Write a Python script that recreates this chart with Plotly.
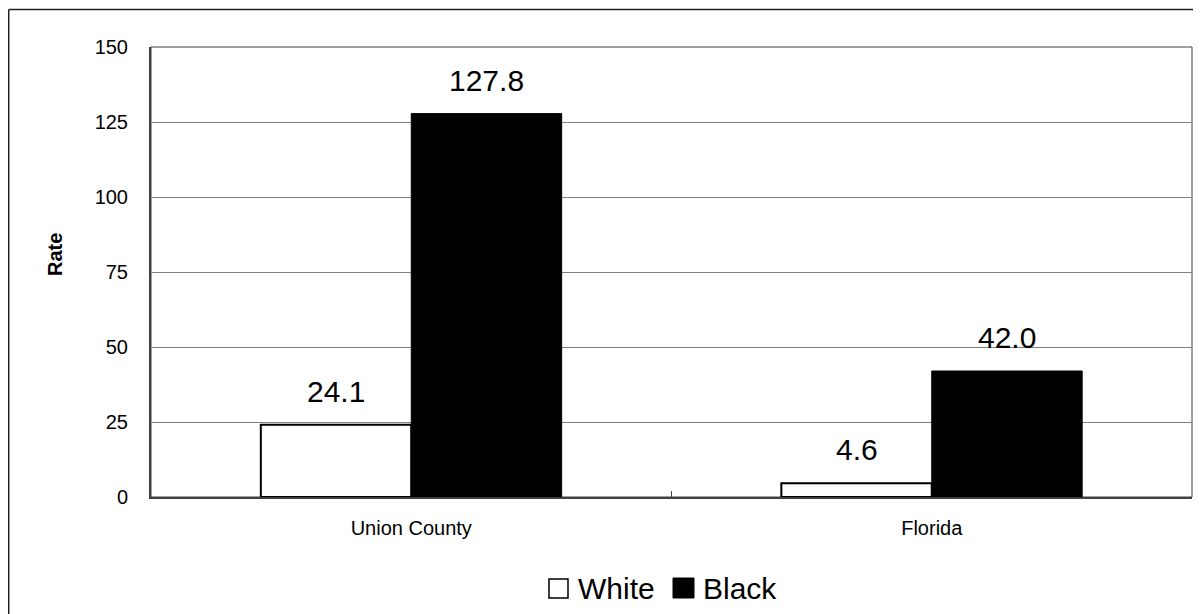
import plotly.graph_objects as go

categories = ["Union County", "Florida"]
white_values = [24.1, 4.6]
black_values = [127.8, 42.0]
value_labels_white = ["24.1", "4.6"]
value_labels_black = ["127.8", "42.0"]
y_ticks = [0, 25, 50, 75, 100, 125, 150]
series_names = ["White", "Black"]

FONT = "Arial, Liberation Sans, sans-serif"
# page body has an 8px margin, so the figure starts at (8, 8)
OFF = 8
W, H = 1193, 606
ML, MR, MT, MB = 143, 9, 39, 117
PW = W - ML - MR
PH = H - MT - MB
BARGAP = 0.422


def px_x(px):
    return (px - OFF - ML) / PW


def px_y(py):
    return (H - MB - (py - OFF)) / PH


fig = go.Figure()
fig.add_trace(go.Bar(
    x=categories, y=white_values, name=series_names[0],
    marker=dict(color="white", line=dict(color="black", width=2)),
    showlegend=False,
))
fig.add_trace(go.Bar(
    x=categories, y=black_values, name=series_names[1],
    marker=dict(color="black", line=dict(color="black", width=1)),
    showlegend=False,
))

annotations = []
# offset from category centre to the centre of each bar (two bars per group)
bar_center = (PW / len(categories)) * (1 - BARGAP) / 4
for cat, v, t in zip(categories, white_values, value_labels_white):
    annotations.append(dict(x=cat, y=v, xref="x", yref="y", text=t, showarrow=False,
                            xshift=-bar_center, yshift=15, yanchor="bottom",
                            font=dict(family=FONT, size=30, color="black")))
for cat, v, t in zip(categories, black_values, value_labels_black):
    annotations.append(dict(x=cat, y=v, xref="x", yref="y", text=t, showarrow=False,
                            xshift=bar_center, yshift=15, yanchor="bottom",
                            font=dict(family=FONT, size=30, color="black")))

# axis title
annotations.append(dict(x=px_x(42), y=px_y(255), xref="paper", yref="paper", text="<b>Rate</b>",
                        showarrow=False, textangle=-90,
                        font=dict(family=FONT, size=20, color="black")))

# manual legend
annotations.append(dict(x=px_x(576), y=px_y(588), xref="paper", yref="paper", text=series_names[0],
                        showarrow=False, xanchor="left", yanchor="middle",
                        font=dict(family=FONT, size=30, color="black")))
annotations.append(dict(x=px_x(701), y=px_y(588), xref="paper", yref="paper", text=series_names[1],
                        showarrow=False, xanchor="left", yanchor="middle",
                        font=dict(family=FONT, size=30, color="black")))

shapes = [
    # plot area border
    dict(type="rect", xref="paper", yref="paper", x0=0, y0=0, x1=1, y1=1,
         line=dict(color="#404040", width=1), layer="below"),
    # outer frame (left and top)
    dict(type="line", xref="paper", yref="paper", x0=px_x(8.7), x1=px_x(8.7), y0=px_y(9.5), y1=px_y(640),
         line=dict(color="#202020", width=1.5)),
    dict(type="line", xref="paper", yref="paper", x0=px_x(8.7), x1=px_x(1197), y0=px_y(9.5), y1=px_y(9.5),
         line=dict(color="#202020", width=1.5)),
    # legend swatches
    dict(type="rect", xref="paper", yref="paper", x0=px_x(549), x1=px_x(568), y0=px_y(598), y1=px_y(579),
         fillcolor="white", line=dict(color="black", width=1.5)),
    dict(type="rect", xref="paper", yref="paper", x0=px_x(673), x1=px_x(694), y0=px_y(598), y1=px_y(578),
         fillcolor="black", line=dict(color="black", width=1)),
]

fig.update_layout(
    width=W, height=H,
    margin=dict(l=ML, r=MR, t=MT, b=MB, pad=0),
    paper_bgcolor="white", plot_bgcolor="white",
    barmode="group", bargap=BARGAP, bargroupgap=0,
    font=dict(family=FONT, color="black"),
    annotations=annotations, shapes=shapes,
    showlegend=False,
)
fig.update_xaxes(
    type="category", showgrid=False, showline=True, linecolor="#404040", linewidth=2,
    ticks="inside", tickson="boundaries", ticklen=6, tickcolor="#404040", tickwidth=1,
    tickfont=dict(family=FONT, size=20, color="black"), ticklabelstandoff=12,
)
fig.update_yaxes(
    range=[0, 150], tickvals=y_ticks, ticktext=[str(v) for v in y_ticks],
    showgrid=True, gridcolor="#808080", gridwidth=1,
    showline=True, linecolor="#404040", linewidth=2, zeroline=False,
    ticks="", tickfont=dict(family=FONT, size=20, color="black"), ticklabelstandoff=17,
)

fig.write_html("out.html")
